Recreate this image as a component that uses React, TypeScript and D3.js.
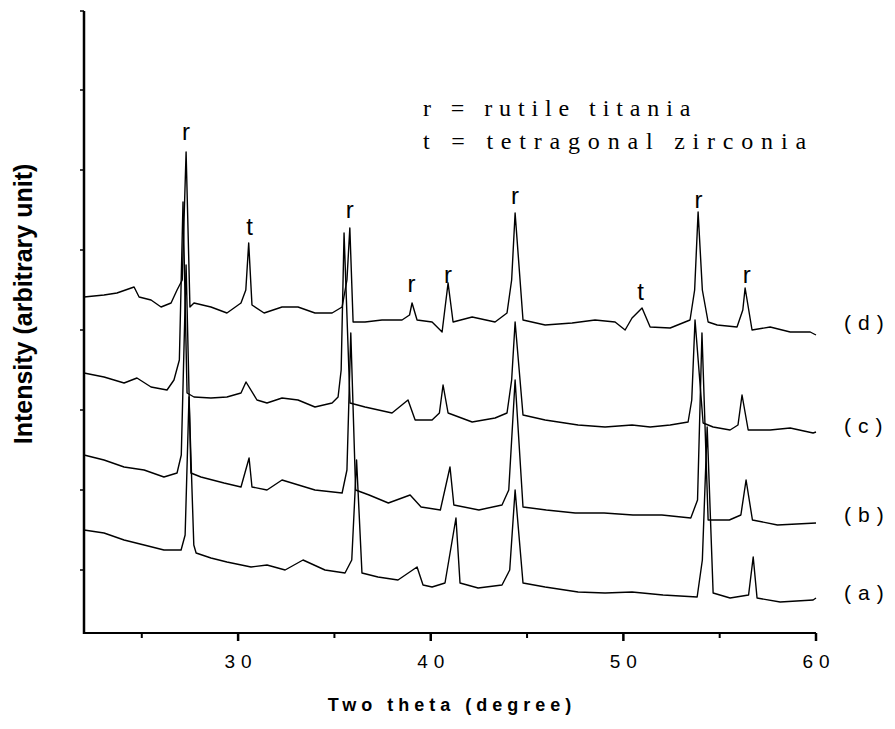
import React from "react";
import * as d3 from "d3";

// Two theta (degree) values and intensities (arbitrary units)
const thetaD = [22.0,23.04,23.71,24.6,24.86,25.48,26.0,26.52,26.83,27.1,27.3,27.5,27.71,28.59,29.42,30.15,30.4,30.55,30.72,31.35,32.28,33.11,33.99,34.88,35.4,35.65,35.8,35.97,36.59,37.47,38.51,38.9,39.03,39.29,40.07,40.59,40.9,41.16,42.15,43.34,43.96,44.2,44.38,44.79,45.94,47.34,48.53,49.57,50.09,50.45,50.97,51.39,52.43,53.46,53.7,53.88,54.1,54.4,54.87,55.9,56.2,56.32,56.68,57.62,58.66,59.7,60.0];
const intD = [336,338,340,346,336,333,326,330,343,353,481,326,330,326,320,330,343,390,328,320,326,326,320,320,326,353,405,311,311,313,313,318,330,313,311,301,350,311,316,311,320,353,420,313,308,310,313,311,303,315,325,306,305,313,343,421,343,311,308,306,323,345,303,306,301,301,298];

const thetaC = [22.0,23.04,24.08,24.75,25.48,26.31,26.67,26.95,27.14,27.35,27.71,28.59,29.42,30.15,30.41,30.98,31.5,32.28,33.11,33.99,34.88,35.19,35.35,35.5,35.81,36.59,37.99,38.82,39.19,40.07,40.45,40.64,40.9,42.15,43.34,43.96,44.2,44.38,44.79,45.94,47.65,49.05,50.45,51.39,52.43,53.36,53.55,53.72,54.14,54.66,55.54,55.95,56.16,56.48,57.62,58.66,59.85,60.0];
const intC = [260,256,250,255,246,243,253,273,431,240,236,235,236,240,251,233,230,235,233,226,230,236,263,400,230,226,220,233,213,213,220,248,220,211,215,220,253,311,218,213,208,206,208,206,208,211,233,313,210,206,203,208,238,203,203,205,200,201];

const thetaB = [22.0,23.04,24.08,25.12,26.15,26.83,27.05,27.3,27.55,28.07,29.27,30.15,30.57,30.72,31.5,32.28,33.99,35.4,35.65,35.85,36.1,36.8,37.8,38.93,39.5,40.5,41.0,41.2,42.5,43.7,44.05,44.38,44.79,46.0,47.5,49.0,50.5,52.0,53.5,53.85,54.08,54.4,55.5,56.1,56.37,56.7,58.0,60.0];
const intB = [178,173,166,163,156,160,178,368,160,156,150,146,175,146,143,153,143,140,163,300,143,138,130,138,126,123,166,128,123,128,143,253,126,123,120,120,118,118,115,133,300,113,113,118,153,113,108,110];

const thetaA = [22.0,23.04,24.08,25.12,26.15,27.04,27.25,27.45,27.7,27.82,28.59,29.42,30.67,31.5,32.44,33.37,34.51,35.55,35.9,36.15,36.43,37.26,38.3,39.29,39.6,40.07,40.74,41.31,41.52,42.46,43.7,44.1,44.38,44.79,45.94,47.65,49.05,50.45,52.06,53.83,54.1,54.35,54.66,55.54,56.5,56.74,56.94,58.14,59.85,60.0];
const intA = [103,100,93,88,83,83,98,236,88,80,75,71,66,68,63,73,63,60,73,173,60,56,53,66,48,46,50,115,50,45,48,63,143,50,46,41,40,41,38,36,73,206,40,35,38,76,35,31,33,35];

const seriesNames = ["(a)", "(b)", "(c)", "(d)"];
const seriesLabelInt = [33, 111, 200, 303];

const xMajorTicks = [30, 40, 50, 60];
const xMinorTicks = [25, 35, 45, 55];
const yTicks = [63, 143, 223, 303, 383, 463, 543, 622];

// peak annotations
const peakTheta = [27.3, 30.6, 35.8, 39.0, 40.9, 44.38, 50.9, 53.9, 56.4];
const peakLabelInt = [493, 398, 415, 341, 350, 429, 333, 425, 350];
const peakLetter = ["r", "t", "r", "r", "r", "r", "t", "r", "r"];

const legendLines = ["r = rutile titania", "t = tetragonal zirconia"];
const legendSpacing = [6.9, 7.8];

export default function App() {
  const W = 895, H = 729;
  const x = d3.scaleLinear().domain([22, 60]).range([84, 816]);
  const y = d3.scaleLinear().domain([0, 622]).range([633, 11]);
  const line = d3.line<[number, number]>().x(d => x(d[0])).y(d => y(d[1]));

  const series = [
    d3.zip(thetaA, intA),
    d3.zip(thetaB, intB),
    d3.zip(thetaC, intC),
    d3.zip(thetaD, intD),
  ] as [number, number][][];

  const sans = "'Liberation Sans', Arial, sans-serif";
  const serif = "'Liberation Serif', 'Times New Roman', serif";

  return (
    <svg width={W} height={H} style={{ position: "absolute", left: 0, top: 0, background: "#fff" }}>
      <rect x={0} y={0} width={W} height={H} fill="#fff" />
      {series.map((s, i) => (
        <path key={i} d={line(s) || ""} fill="none" stroke="#000" strokeWidth={1.4} strokeLinejoin="round" />
      ))}
      {/* axes */}
      <line x1={x(22)} x2={x(60)} y1={y(0)} y2={y(0)} stroke="#000" strokeWidth={2} />
      <line x1={x(22)} x2={x(22)} y1={y(0) + 1} y2={y(622)} stroke="#000" strokeWidth={2.5} />
      {xMajorTicks.map(t => (
        <line key={"M" + t} x1={x(t)} x2={x(t)} y1={y(0)} y2={y(0) + 8} stroke="#000" strokeWidth={2.5} />
      ))}
      {xMinorTicks.map(t => (
        <line key={"m" + t} x1={x(t)} x2={x(t)} y1={y(0)} y2={y(0) + 5} stroke="#000" strokeWidth={2} />
      ))}
      {yTicks.map(t => (
        <line key={"y" + t} x1={x(22) - 4} x2={x(22)} y1={y(t)} y2={y(t)} stroke="#000" strokeWidth={1.5} />
      ))}
      {xMajorTicks.map(t => (
        <text key={"L" + t} x={x(t) + 3} y={y(0) + 35} textAnchor="middle" fontFamily={sans} fontSize={19} letterSpacing={6}>
          {String(t)}
        </text>
      ))}
      <text x={452} y={711} textAnchor="middle" fontFamily={sans} fontSize={18} fontWeight="bold" letterSpacing={5}>
        Two theta (degree)
      </text>
      <text transform={`translate(32, 304) rotate(-90)`} textAnchor="middle" fontFamily={sans} fontSize={25} fontWeight="bold">
        Intensity (arbitrary unit)
      </text>
      {legendLines.map((l, i) => (
        <text key={l} x={423} y={116 + i * 33} fontFamily={serif} fontSize={24} letterSpacing={legendSpacing[i]}>
          {l}
        </text>
      ))}
      {peakTheta.map((t, i) => (
        <text key={"p" + i} x={x(t)} y={y(peakLabelInt[i])} textAnchor="middle" fontFamily={sans} fontSize={24}>
          {peakLetter[i]}
        </text>
      ))}
      {seriesNames.map((n, i) => (
        <text key={n} x={844} y={y(seriesLabelInt[i])} fontFamily={sans} fontSize={21} letterSpacing={7}>
          {n}
        </text>
      ))}
    </svg>
  );
}
